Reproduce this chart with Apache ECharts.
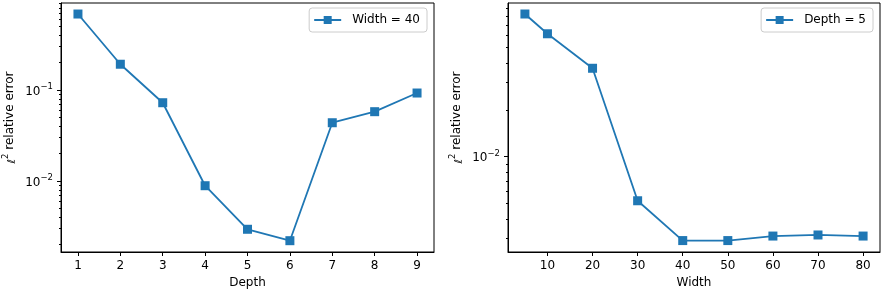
<!DOCTYPE html>
<html>
<head>
<meta charset="utf-8">
<script src="https://cdn.jsdelivr.net/npm/echarts@6/dist/echarts.min.js"></script>
<style>
html,body{margin:0;padding:0;background:#fff;}
#c{width:883px;height:294px;}
</style>
</head>
<body>
<div id="c"></div>
<script>
// ---- data ----
const depthValues = [1, 2, 3, 4, 5, 6, 7, 8, 9];
const errWidth40 = [0.684, 0.192, 0.0725, 0.00888, 0.00295, 0.00221, 0.0437, 0.0578, 0.0927];
const widthValues = [5, 10, 20, 30, 40, 50, 60, 70, 80];
const errDepth5 = [0.0822, 0.0614, 0.0369, 0.00522, 0.0029, 0.0029, 0.0031, 0.00315, 0.0031];
const leftXTicks = [1, 2, 3, 4, 5, 6, 7, 8, 9];
const rightXTicks = [10, 20, 30, 40, 50, 60, 70, 80];
const leftYMajor = [0.01, 0.1];
const leftYMinor = [0.002,0.003,0.004,0.005,0.006,0.007,0.008,0.009,0.02,0.03,0.04,0.05,0.06,0.07,0.08,0.09,0.2,0.3,0.4,0.5,0.6,0.7,0.8,0.9];
const rightYMajor = [0.01];
const rightYMinor = [0.003,0.004,0.005,0.006,0.007,0.008,0.009,0.02,0.03,0.04,0.05,0.06,0.07,0.08,0.09];

const FONT = 'DejaVu Sans';
const BLUE = '#1f77b4';

function powLabel(v) {
  const e = Math.round(Math.log10(v));
  return '{b|10}{s|' + (e < 0 ? '\u2212' : '') + Math.abs(e) + '}';
}
const powRich = {
  b: {fontFamily: FONT, fontSize: 12, color: '#000', verticalAlign: 'bottom', lineHeight: 15},
  s: {fontFamily: FONT, fontSize: 8.5, color: '#000', verticalAlign: 'top', lineHeight: 10, padding: [0,0,7,0]}
};
const yNameRich = {
  l: {fontFamily: FONT, fontSize: 11, color: '#000', verticalAlign: 'bottom'},
  s: {fontFamily: FONT, fontSize: 8.5, color: '#000', padding: [0,0,8,0]},
  t: {fontFamily: FONT, fontSize: 12, color: '#000'}
};

function xAxis(gi, min, max, ticks, name) {
  return {
    type: 'value', gridIndex: gi, min: min, max: max,
    name: name, nameLocation: 'middle', nameGap: 25,
    nameTextStyle: {fontFamily: FONT, fontSize: 12, color: '#000'},
    splitLine: {show: false},
    axisLine: {lineStyle: {color: '#000', width: 1}},
    axisTick: {customValues: ticks, length: 4, lineStyle: {color: '#000'}},
    axisLabel: {customValues: ticks, margin: 8, fontFamily: FONT, fontSize: 12, color: '#000'}
  };
}
function yAxes(gi, min, max, major, minor, gap) {
  return [{
    type: 'log', logBase: 10, gridIndex: gi, min: min, max: max, position: 'left',
    name: '{l|\u2113}{s|2}{t| relative error}', nameLocation: 'middle', nameGap: gap, nameRotate: 90,
    nameTextStyle: {rich: yNameRich, padding: [0, 0, 0, 20]},
    splitLine: {show: false},
    axisLine: {lineStyle: {color: '#000', width: 1}},
    axisTick: {customValues: major, length: 4, lineStyle: {color: '#000'}},
    axisLabel: {customValues: major, margin: 8, formatter: powLabel, rich: powRich}
  }, {
    type: 'log', logBase: 10, gridIndex: gi, min: min, max: max, position: 'left', offset: 0,
    splitLine: {show: false},
    axisLine: {show: false},
    axisTick: {customValues: minor, length: 2, lineStyle: {color: '#000'}},
    axisLabel: {show: false}
  }];
}
function pairs(xs, ys) { return xs.map((x, i) => [x, ys[i]]); }

const chart = echarts.init(document.getElementById('c'), null, {renderer: 'canvas'});
const ya = yAxes(0, 0.00166, 0.904, leftYMajor, leftYMinor, 43);
const yb = yAxes(1, 0.00245, 0.0967, rightYMajor, rightYMinor, 43);
const legendCommon = {
  orient: 'vertical', top: 8, itemWidth: 27, itemHeight: 10,
  borderColor: '#cccccc', borderWidth: 1, borderRadius: 3,
  padding: [6, 7, 6, 4],
  backgroundColor: 'rgba(255,255,255,0.8)',
  textStyle: {fontFamily: FONT, fontSize: 12, color: '#000', padding: [0, 0, 0, 6]}
};
chart.setOption({
  animation: false,
  backgroundColor: '#fff',
  grid: [
    {left: 61, top: 3, width: 373, height: 249, show: true, borderColor: '#000', borderWidth: 1},
    {left: 508, top: 3, width: 372, height: 249, show: true, borderColor: '#000', borderWidth: 1}
  ],
  xAxis: [
    xAxis(0, 0.6, 9.4, leftXTicks, 'Depth'),
    xAxis(1, 1.25, 83.75, rightXTicks, 'Width')
  ],
  yAxis: [ya[0], ya[1], yb[0], yb[1]],
  legend: [
    Object.assign({}, legendCommon, {data: ['Width = 40'], right: 456}),
    Object.assign({}, legendCommon, {data: ['Depth = 5'], right: 10})
  ],
  series: [
    {name: 'Width = 40', type: 'line', xAxisIndex: 0, yAxisIndex: 0,
     data: pairs(depthValues, errWidth40), symbol: 'rect', symbolSize: 9,
     lineStyle: {color: BLUE, width: 1.8}, itemStyle: {color: BLUE}},
    {name: 'Depth = 5', type: 'line', xAxisIndex: 1, yAxisIndex: 2,
     data: pairs(widthValues, errDepth5), symbol: 'rect', symbolSize: 9,
     lineStyle: {color: BLUE, width: 1.8}, itemStyle: {color: BLUE}}
  ]
});
</script>
</body>
</html>
